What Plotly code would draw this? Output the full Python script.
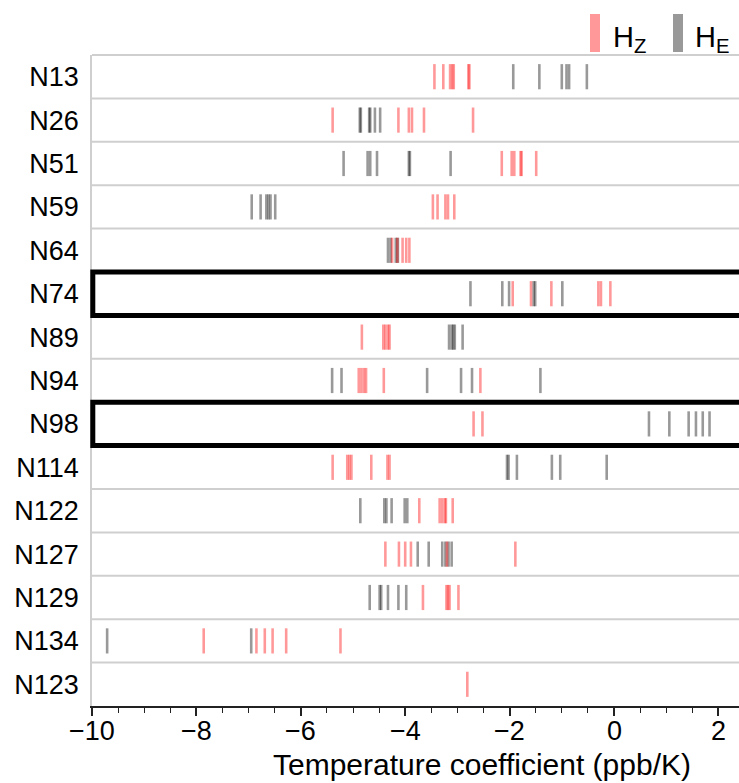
import plotly.graph_objects as go

# Row labels, top to bottom
rows = ["N13", "N26", "N51", "N59", "N64", "N74", "N89", "N94", "N98",
        "N114", "N122", "N127", "N129", "N134", "N123"]
highlighted = ["N74", "N98"]

# Temperature coefficients (ppb/K) of the H_Z and H_E resonances per row
n13_hz = [-3.44, -3.27, -3.14, -3.10, -3.07, -2.79, -2.77]
n13_he = [-1.93, -1.43, -1.00, -0.91, -0.86, -0.52]
n26_hz = [-5.39, -4.13, -3.93, -3.87, -3.64, -2.70]
n26_he = [-4.87, -4.85, -4.69, -4.67, -4.58, -4.48]
n51_hz = [-2.15, -1.96, -1.91, -1.79, -1.77, -1.49]
n51_he = [-5.18, -4.72, -4.67, -4.54, -3.93, -3.91, -3.13]
n59_hz = [-3.47, -3.38, -3.23, -3.18, -3.06]
n59_he = [-6.94, -6.77, -6.66, -6.62, -6.58, -6.49]
n64_hz = [-4.25, -4.15, -4.05, -3.98, -3.92]
n64_he = [-4.33, -4.28, -4.18, -4.14]
n74_hz = [-1.94, -1.59, -1.20, -0.30, -0.25, -0.07]
n74_he = [-2.75, -2.14, -2.01, -1.54, -1.51, -0.99]
n89_hz = [-4.83, -4.42, -4.38, -4.33, -4.30]
n89_he = [-3.16, -3.11, -3.08, -3.05, -2.90]
n94_hz = [-4.89, -4.84, -4.79, -4.75, -4.41, -2.56]
n94_he = [-5.40, -5.22, -3.58, -2.93, -2.72, -1.41]
n98_hz = [-2.69, -2.52]
n98_he = [0.67, 1.06, 1.43, 1.57, 1.70, 1.83]
n114_hz = [-5.39, -5.11, -5.07, -5.03, -4.65, -4.34, -4.30]
n114_he = [-2.05, -2.02, -1.86, -1.19, -1.03, -0.14]
n122_hz = [-3.73, -3.34, -3.29, -3.24, -3.22, -3.09]
n122_he = [-4.86, -4.40, -4.36, -4.26, -4.01, -3.96]
n127_hz = [-4.38, -4.12, -4.00, -3.89, -3.20, -1.89]
n127_he = [-3.76, -3.55, -3.29, -3.23, -3.17, -3.11]
n129_hz = [-3.66, -3.21, -3.18, -3.15, -2.98]
n129_he = [-4.68, -4.49, -4.46, -4.33, -4.13, -3.98]
n134_hz = [-7.86, -6.85, -6.69, -6.54, -6.28, -5.24]
n134_he = [-9.71, -6.95]
n123_hz = [-2.81]
n123_he = []

x_ticks = [-10, -8, -6, -4, -2, 0, 2]
x_tick_text = ["\u221210", "\u22128", "\u22126", "\u22124", "\u22122", "0", "2"]

hz_rows = [n13_hz, n26_hz, n51_hz, n59_hz, n64_hz, n74_hz, n89_hz, n94_hz,
           n98_hz, n114_hz, n122_hz, n127_hz, n129_hz, n134_hz, n123_hz]
he_rows = [n13_he, n26_he, n51_he, n59_he, n64_he, n74_he, n89_he, n94_he,
           n98_he, n114_he, n122_he, n127_he, n129_he, n134_he, n123_he]

HZ_COLOR = "rgba(255,0,0,0.4)"
HE_COLOR = "rgba(0,0,0,0.4)"
HALF = 0.29  # half height of a tick mark, in row units

W, H = 739, 783
ML, MR, MT, MB = 92, 0, 55, 77
PW, PH = W - ML - MR, H - MT - MB
n = len(rows)


def px_x(px):
    return (px - ML) / PW


def px_y(py):
    return (H - MB - py) / PH


def row_y(v):
    # paper y of a row coordinate on the reversed axis [n-0.5, -0.5]
    return (n - 0.5 - v) / n


fig = go.Figure()

# one trace per tick so overlapping marks darken
for series, color, name in ((he_rows, HE_COLOR, "H_E"), (hz_rows, HZ_COLOR, "H_Z")):
    for i, vals in enumerate(series):
        for v in vals:
            fig.add_trace(go.Scatter(
                x=[v, v], y=[i - HALF, i + HALF], mode="lines",
                line=dict(color=color, width=2.6),
                showlegend=False, name=name, hoverinfo="x+name"))

shapes = []
# top frame and row separators
for k in range(n):
    shapes.append(dict(type="line", xref="paper", yref="paper",
                       x0=0, x1=1, y0=row_y(k - 0.5), y1=row_y(k - 0.5),
                       line=dict(color="#cfcfcf", width=2), layer="below"))
# boxes around highlighted rows
for r in highlighted:
    i = rows.index(r)
    shapes.append(dict(type="rect", xref="paper", yref="paper",
                       x0=px_x(92.8), x1=1.05,
                       y0=row_y(i + 0.5), y1=row_y(i - 0.5),
                       line=dict(color="black", width=5)))
# legend swatches
shapes.append(dict(type="rect", xref="paper", yref="paper",
                   x0=px_x(590), x1=px_x(600), y0=px_y(52), y1=px_y(14),
                   fillcolor="#ff9999", line=dict(width=0)))
shapes.append(dict(type="rect", xref="paper", yref="paper",
                   x0=px_x(673), x1=px_x(683), y0=px_y(52), y1=px_y(14),
                   fillcolor="#999999", line=dict(width=0)))

annotations = [
    dict(text="H<sub>Z</sub>", xref="paper", yref="paper", x=px_x(611),
         y=px_y(39), xanchor="left", yanchor="middle", showarrow=False,
         font=dict(size=29, color="black")),
    dict(text="H<sub>E</sub>", xref="paper", yref="paper", x=px_x(693),
         y=px_y(39), xanchor="left", yanchor="middle", showarrow=False,
         font=dict(size=29, color="black")),
    dict(text="Temperature coefficient (ppb/K)", xref="paper", yref="paper",
         x=px_x(482), y=px_y(764), xanchor="center", yanchor="middle",
         showarrow=False, font=dict(size=30, color="black")),
]
# x tick labels placed on the data axis
for v, t in zip(x_ticks, x_tick_text):
    annotations.append(dict(text=t, xref="x", yref="paper", x=v,
                            y=px_y(731), xanchor="center", yanchor="middle",
                            showarrow=False, font=dict(size=27, color="black")))

fig.update_layout(
    width=W, height=H,
    margin=dict(l=ML, r=MR, t=MT, b=MB, pad=0),
    paper_bgcolor="white", plot_bgcolor="white",
    font=dict(family="Liberation Sans, Arial, Helvetica, sans-serif",
              color="black"),
    shapes=shapes, annotations=annotations,
    xaxis=dict(range=[-10, -10 + PW / 52.2], tickvals=x_ticks,
               showticklabels=False,
               showgrid=False, zeroline=False,
               showline=True, linecolor="#222222", linewidth=1.5,
               ticks="outside", ticklen=8, tickwidth=1.5, tickcolor="#222222",
               minor=dict(dtick=0.5, ticks="outside", ticklen=5,
                          tickwidth=1.2, tickcolor="#222222")),
    yaxis=dict(range=[n - 0.5, -0.5], tickvals=list(range(n)), ticktext=rows,
               showgrid=False, zeroline=False,
               showline=True, linecolor="#cfcfcf", linewidth=1.5,
               ticks="", ticklabelstandoff=6, tickfont=dict(size=27)),
)

fig.write_html("out.html")
